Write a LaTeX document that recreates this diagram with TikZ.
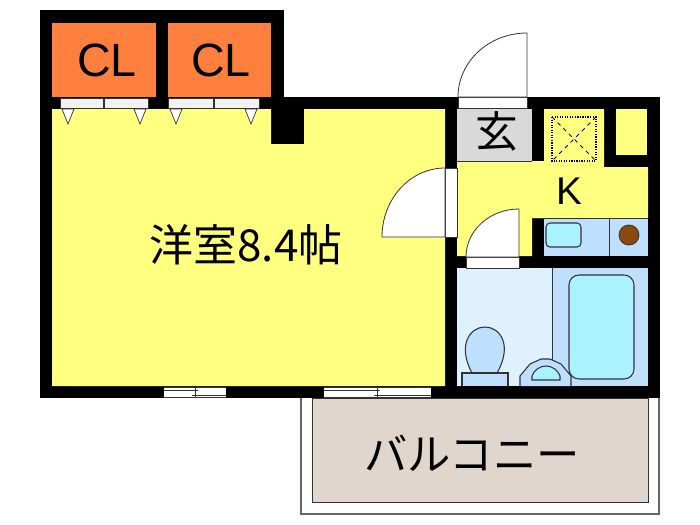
\documentclass[tikz,border=0pt]{standalone}
\usepackage{fontspec}
\setmainfont{Liberation Sans}
\newfontfamily\jpfont{Noto Sans CJK JP}
\definecolor{roomy}{HTML}{FFFF80}
\definecolor{clo}{HTML}{FF7F3F}
\definecolor{grayf}{HTML}{D9D9D9}
\definecolor{bluea}{HTML}{BFDFFF}
\definecolor{blueb}{HTML}{DFF1FF}
\definecolor{cyanf}{HTML}{AAF2FF}
\definecolor{balc}{HTML}{E0D6CD}
\definecolor{burner}{HTML}{8B4A0B}
\definecolor{edge}{HTML}{333333}
\definecolor{rail}{HTML}{666666}
\tikzset{x=0.75pt,y=-0.75pt,
 wall/.style={fill=black,draw=none},
 hair/.style={draw=edge,line width=0.6pt},
 fixture/.style={draw=edge,line width=0.8pt},
 opening/.style={fill=white,draw=edge,line width=0.5pt},
 lab/.style={inner sep=0,text=black}}
\begin{document}
\begin{tikzpicture}
\useasboundingbox (0,0) rectangle (700,525);
% balcony
\draw[draw=rail,line width=1pt,fill=white] (301,398) -- (301,514) -- (659,514) -- (659,398);
\filldraw[fill=balc,draw=edge,line width=0.7pt] (312,398) rectangle (648,502);
% walls
\fill[wall] (40,10) rectangle (284,110);
\fill[wall] (40,97) rectangle (660,398);
% closets
\fill[clo] (52,23) rectangle (156,97);
\fill[clo] (168,23) rectangle (271,97);
% rooms
\fill[roomy] (52,109) -- (271,109) -- (271,144) -- (304,144) -- (304,109) -- (445,109) -- (445,386) -- (52,386) -- cycle;
\fill[grayf] (457,109) rectangle (532,161);
\fill[roomy] (457,161) -- (544,161) -- (544,109) -- (604,109) -- (604,167) -- (648,167) -- (648,218) -- (532,218) -- (532,256) -- (457,256) -- cycle;
\fill[roomy] (616,109) rectangle (647,155);
\draw[hair] (457,161) -- (532,161);
\fill[blueb] (457,268) rectangle (552,386);
\fill[bluea] (552,268) rectangle (648,386);
\draw[hair] (552.5,268) -- (552.5,386);
% counter
\fill[bluea] (544,218) rectangle (648,256);
\draw[hair] (609,218) -- (609,256);
\draw[hair] (532,218) -- (648,218);
\filldraw[fill=cyanf,fixture,rounded corners=3pt] (546,223) rectangle (581,247);
\filldraw[fill=burner,draw=edge,line width=0.6pt] (629,235) circle[radius=7.5pt];
% dotted
\draw[densely dotted,line width=0.9pt] (552,117) rectangle (596,161);
\draw[dashed,line width=0.6pt] (552,117) -- (596,161) (596,117) -- (552,161);
% bath fixtures
\filldraw[fill=cyanf,fixture,rounded corners=7.5pt] (569,275) rectangle (634,379);
\filldraw[fill=bluea,fixture] (472,373) .. controls (457,345) and (470,327) .. (485,327) .. controls (500,327) and (513,345) .. (497,373);
\filldraw[fill=bluea,fixture] (462,386) -- (462,373) -- (508,373) -- (508,386);
\filldraw[fill=bluea,fixture] (520,386) -- (520,376) -- (530,364) -- (541,359) -- (550,359) -- (561,364) -- (571,376) -- (571,386);
\filldraw[fill=cyanf,fixture] (532,380) -- (532,376) .. controls (534,370) and (540,366) .. (546,366) .. controls (552,366) and (558,370) .. (560,376) -- (560,380) -- cycle;
% closet doors
\foreach \a/\b in {60/103,104/148,168/213,214/259}{\filldraw[opening,fill=white!95!black] (\a,98) rectangle (\b,108);}
\foreach \m in {68,140,176,251}{\filldraw[opening] (\m-6,109) -- (\m+6,109) -- (\m,124) -- cycle;}
% doors
\filldraw[opening] (458,97) rectangle (527,108);
\filldraw[fill=white,hair] (458,97) arc[start angle=180,end angle=270,x radius=69,y radius=64] -- (527,97) -- cycle;
\filldraw[opening] (445,168) rectangle (457,237);
\filldraw[fill=white,hair] (382,237) arc[start angle=180,end angle=270,x radius=63,y radius=69] -- (445,237) -- cycle;
\filldraw[opening] (466,257) rectangle (519,268);
\filldraw[fill=white,hair] (466,257) arc[start angle=180,end angle=270,x radius=53,y radius=48] -- (519,257) -- cycle;
% windows
\foreach \a/\c/\b in {164/195/226,324/377/431}{
 \fill[white] (\a,387) rectangle (\b,397);
 \draw[draw=edge,line width=0.5pt] (\a,390) -- (\c+3,390) (\c-3,395) -- (\b,395) (\c,386.5) -- (\c,397.5) (\a,387)--(\b,387) (\a,397)--(\b,397);
}
% labels
\node[lab,font=\fontsize{35}{37}\selectfont] (cla) at (107,60) {CL};
\node[lab,font=\fontsize{35}{37}\selectfont] (clb) at (221,60) {CL};
\node[lab,font=\jpfont\fontsize{33}{35}\selectfont] (room) at (246,245) {洋室8.4帖};
\node[lab,font=\jpfont\fontsize{32}{34}\selectfont] (genkan) at (497,131) {玄};
\node[lab,font=\fontsize{29}{31}\selectfont] (k) at (569,191) {K};
\node[lab,font=\jpfont\fontsize{32.5}{34}\selectfont] (balcony) at (472,453) {バルコニー};
\end{tikzpicture}
\end{document}
